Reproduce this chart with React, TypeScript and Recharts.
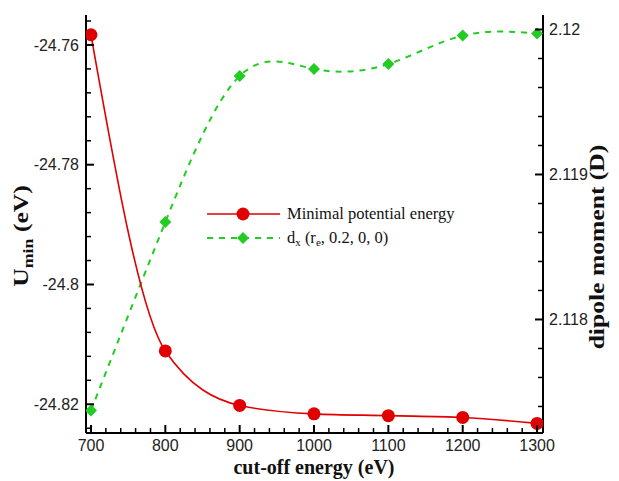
import React from "react";
import { LineChart, Line, XAxis, YAxis } from "recharts";

// cut-off energy (eV)
const cutoff = [700, 800, 900, 1000, 1100, 1200, 1300];
// minimal potential energy U_min (eV), left axis
const uMin = [-24.7583, -24.8111, -24.8202, -24.8216, -24.8219, -24.8222, -24.8232];
// dipole moment d_x (D), right axis
const dipole = [2.117372, 2.118672, 2.119679, 2.119728, 2.119762, 2.119958, 2.119972];

const xMajor = [700, 800, 900, 1000, 1100, 1200, 1300];
const leftMajor = [-24.76, -24.78, -24.8, -24.82];
const leftLabels = ["-24.76", "-24.78", "-24.8", "-24.82"];
const rightMajor = [2.118, 2.119, 2.12];
const rightLabels = ["2.118", "2.119", "2.12"];

const data = cutoff.map((c, i) => ({ cutoff: c, umin: uMin[i], dx: dipole[i] }));

// minor tick positions (every 20 eV, 0.004 eV, 0.0002 D)
const steps = (from: number, step: number, n: number) =>
  Array.from({ length: n }, (_, i) => +(from + i * step).toFixed(6));
const xTicks = steps(700, 20, 31);
const leftTicks = steps(-24.824, 0.004, 18);
const rightTicks = steps(2.1174, 0.0002, 14);

const RED = "#e00000";
const GREEN = "#22cc22";
const tickFont = { fontFamily: "'Liberation Sans', Arial, sans-serif", fontSize: 16, fill: "#222" };
const titleFont = { fontFamily: "'Liberation Serif', 'Times New Roman', serif", fontSize: 20, fontWeight: 700, fill: "#111" };

const majorIndex = (v: number, majors: number[]) => majors.findIndex((m) => Math.abs(m - v) < 1e-7);

function LeftTick(props: any) {
  const { x, y, payload } = props;
  const idx = majorIndex(payload.value, leftMajor);
  const ax = x + 7;
  return (
    <g>
      <line x1={ax} x2={ax + (idx >= 0 ? 8 : 5)} y1={y} y2={y} stroke="#000" strokeWidth={idx >= 0 ? 2 : 1.5} />
      {idx >= 0 && (
        <text x={x} y={y} dy="0.35em" textAnchor="end" {...tickFont}>
          {leftLabels[idx]}
        </text>
      )}
    </g>
  );
}

function RightTick(props: any) {
  const { x, y, payload } = props;
  const idx = majorIndex(payload.value, rightMajor);
  const ax = x - 6;
  return (
    <g>
      <line x1={ax} x2={ax - (idx >= 0 ? 8 : 5)} y1={y} y2={y} stroke="#000" strokeWidth={idx >= 0 ? 2 : 1.5} />
      {idx >= 0 && (
        <text x={x} y={y} dy="0.35em" textAnchor="start" {...tickFont}>
          {rightLabels[idx]}
        </text>
      )}
    </g>
  );
}

function BottomTick(props: any) {
  const { x, y, payload } = props;
  const major = xMajor.includes(payload.value);
  const ay = y - 6;
  return (
    <g>
      <line x1={x} x2={x} y1={ay} y2={ay - (major ? 8 : 5)} stroke="#000" strokeWidth={major ? 2 : 1.5} />
      {major && (
        <text x={x} y={y} dy="0.75em" textAnchor="middle" {...tickFont}>
          {payload.value}
        </text>
      )}
    </g>
  );
}

const RedDot = (props: any) => {
  const { cx, cy, index } = props;
  return <circle key={index} cx={cx} cy={cy} r={6.5} fill={RED} />;
};

const GreenDiamond = (props: any) => {
  const { cx, cy, index } = props;
  const s = 6;
  return (
    <polygon
      key={index}
      points={`${cx},${cy - s} ${cx + s},${cy} ${cx},${cy + s} ${cx - s},${cy}`}
      fill={GREEN}
    />
  );
};

const rowStyle: React.CSSProperties = { display: "flex", alignItems: "center", height: 24 };
const subStyle: React.CSSProperties = { fontSize: 11, lineHeight: 0, verticalAlign: "-0.3em" };

// vertical titles are stretched along the reading direction, as in the source image
const vTitle = (cx: number, cy: number) => `translate(${cx} ${cy}) rotate(-90) scale(1.28 1)`;

export default function App() {
  return (
    <div style={{ position: "relative", width: 619, height: 481, background: "#fff" }}>
      <style>{"body{margin:0}"}</style>
      <LineChart width={619} height={481} data={data} margin={{ top: 15, right: 0, bottom: 0, left: 0 }}>
        <XAxis
          dataKey="cutoff"
          type="number"
          domain={[693.3, 1308]}
          ticks={xTicks}
          interval={0}
          height={48}
          tickSize={0}
          tickMargin={6}
          tickLine={false}
          tick={<BottomTick />}
          axisLine={{ stroke: "#000", strokeWidth: 2 }}
          allowDataOverflow
          label={() => (
            <text x={314} y={474} textAnchor="middle" {...titleFont}>
              cut-off energy (eV)
            </text>
          )}
        />
        <YAxis
          yAxisId="left"
          orientation="left"
          type="number"
          domain={[-24.8248, -24.755]}
          ticks={leftTicks}
          interval={0}
          width={86}
          tickSize={0}
          tickMargin={7}
          tickLine={false}
          tick={<LeftTick />}
          axisLine={{ stroke: "#000", strokeWidth: 2 }}
          allowDataOverflow
          label={() => (
            <text x={0} y={0} textAnchor="middle" transform={vTitle(28, 236)} {...titleFont}>
              U<tspan fontSize={14} dy={5}>min</tspan>
              <tspan dy={-5}> (eV)</tspan>
            </text>
          )}
        />
        <YAxis
          yAxisId="right"
          orientation="right"
          type="number"
          domain={[2.117217, 2.1201]}
          ticks={rightTicks}
          interval={0}
          width={76}
          tickSize={0}
          tickMargin={6}
          tickLine={false}
          tick={<RightTick />}
          axisLine={{ stroke: "#000", strokeWidth: 2 }}
          allowDataOverflow
          label={() => (
            <text x={0} y={0} textAnchor="middle" transform={vTitle(604, 247)} {...titleFont}>
              dipole moment (D)
            </text>
          )}
        />
        <Line
          yAxisId="right"
          dataKey="dx"
          type="natural"
          stroke={GREEN}
          strokeWidth={2}
          strokeDasharray="6 6"
          dot={GreenDiamond}
          activeDot={false}
          isAnimationActive={false}
        />
        <Line
          yAxisId="left"
          dataKey="umin"
          type="monotone"
          stroke={RED}
          strokeWidth={1.6}
          dot={RedDot}
          activeDot={false}
          isAnimationActive={false}
        />
      </LineChart>
      <div
        style={{
          position: "absolute",
          left: 206,
          top: 202,
          fontFamily: "'Liberation Serif', 'Times New Roman', serif",
          fontSize: 16.5,
          color: "#111",
          lineHeight: "24px",
        }}
      >
        <div style={rowStyle}>
          <svg width={76} height={24}>
            <line x1={1} x2={74} y1={12} y2={12} stroke={RED} strokeWidth={1.6} />
            <circle cx={37} cy={12} r={6.5} fill={RED} />
          </svg>
          <span style={{ marginLeft: 5 }}>Minimal potential energy</span>
        </div>
        <div style={rowStyle}>
          <svg width={76} height={24}>
            <line x1={1} x2={74} y1={12} y2={12} stroke={GREEN} strokeWidth={2} strokeDasharray="6 6" />
            <polygon points="37,6 43,12 37,18 31,12" fill={GREEN} />
          </svg>
          <span style={{ marginLeft: 5 }}>
            d<sub style={subStyle}>x</sub> (r<sub style={subStyle}>e</sub>, 0.2, 0, 0)
          </span>
        </div>
      </div>
    </div>
  );
}
